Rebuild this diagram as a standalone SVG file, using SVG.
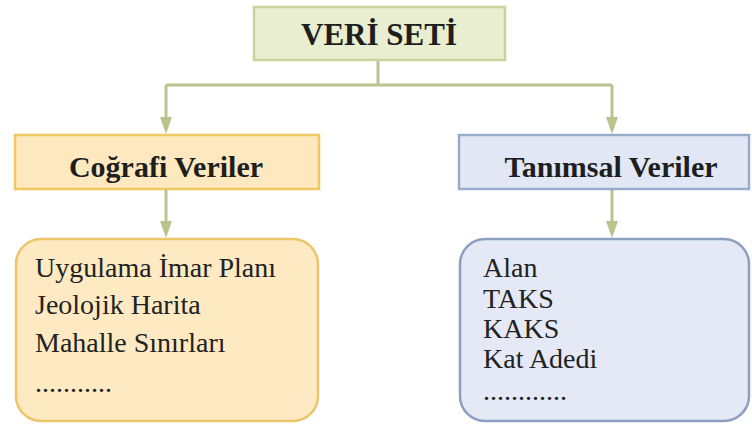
<svg xmlns="http://www.w3.org/2000/svg" width="752" height="424" viewBox="0 0 752 424">
<rect width="752" height="424" fill="#ffffff"/>
<g id="connectors" stroke="#b7c48d" stroke-width="3" fill="none">
<path d="M378,60 V85 M166,85 H612"/>
<path d="M166,85 V117"/>
<path d="M612,85 V117"/>
<path d="M166,189 V221"/>
<path d="M612,189 V221"/>
<g fill="#b7c48d" stroke="none">
<path d="M160,117 L172,117 L166,134 Z"/>
<path d="M606,117 L618,117 L612,134 Z"/>
<path d="M160,221 L172,221 L166,238 Z"/>
<path d="M606,221 L618,221 L612,238 Z"/>
</g>
</g>
<g id="veri-seti">
<rect x="254" y="7" width="251" height="53" fill="#e8eecf" stroke="#c9d49c" stroke-width="2.5"/>
<text x="379" y="45" font-size="31" font-weight="bold" fill="#1e1e1e" text-anchor="middle" font-family="serif">VERİ SETİ</text>
</g>
<g id="cografi-veriler">
<rect x="15" y="135" width="304" height="54" fill="#fde8bf" stroke="#efc862" stroke-width="2.5"/>
<text x="166" y="177" font-size="30" font-weight="bold" fill="#1e1e1e" text-anchor="middle" font-family="serif">Coğrafi Veriler</text>
</g>
<g id="tanimsal-veriler">
<rect x="459" y="135" width="290" height="54" fill="#e2e7f5" stroke="#9aaacb" stroke-width="2.5"/>
<text x="611" y="177" font-size="30" font-weight="bold" fill="#1e1e1e" text-anchor="middle" font-family="serif">Tanımsal Veriler</text>
</g>
<g id="cografi-liste">
<rect x="16" y="239" width="302" height="182" rx="25" fill="#fdeac3" stroke="#ecc569" stroke-width="2.5"/>
<text x="35" y="277" font-size="28" fill="#222" font-family="serif">Uygulama İmar Planı</text>
<text x="35" y="314" font-size="28" fill="#222" font-family="serif">Jeolojik Harita</text>
<text x="35" y="352" font-size="28" fill="#222" font-family="serif">Mahalle Sınırları</text>
<text x="35" y="392" font-size="28" fill="#222" font-family="serif">...........</text>
</g>
<g id="tanimsal-liste">
<rect x="460" y="239" width="289" height="182" rx="25" fill="#e5e9f6" stroke="#8d9ec1" stroke-width="2.5"/>
<text x="483" y="277" font-size="28" fill="#222" font-family="serif">Alan</text>
<text x="483" y="308" font-size="28" fill="#222" font-family="serif">TAKS</text>
<text x="483" y="338" font-size="28" fill="#222" font-family="serif">KAKS</text>
<text x="483" y="368" font-size="28" fill="#222" font-family="serif">Kat Adedi</text>
<text x="483" y="400" font-size="28" fill="#222" font-family="serif">............</text>
</g>
</svg>
